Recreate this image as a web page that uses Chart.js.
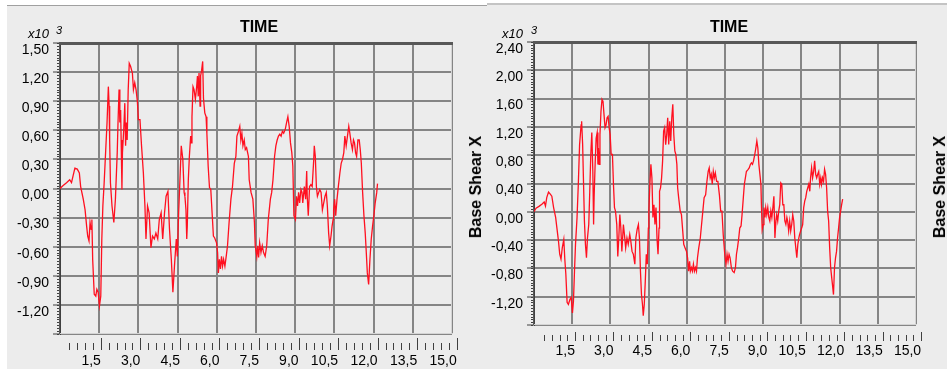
<!DOCTYPE html>
<html>
<head>
<meta charset="utf-8">
<script src="https://cdn.jsdelivr.net/npm/chart.js@4.4.1/dist/chart.umd.min.js"></script>
<style>
  body { margin: 0; width: 947px; height: 369px; background: #fff; position: relative; overflow: hidden; font-family: 'Liberation Sans', Arial, sans-serif; color: #000; }
  .panel { position: absolute; bottom: 0; background: #ececec; }
  #panelA { left: 7px; top: 5px; width: 480px; border-top: 1px solid #a0a0a0; }
  #panelB { left: 487px; right: 0; top: 3px; border-top: 2px solid #c4c4c4; }
  canvas { position: absolute; top: 0; }
  #chartA { left: 0; }
  #chartB { left: 487px; }
  .lbl { position: absolute; white-space: nowrap; line-height: 1; }
  .title { font-weight: bold; font-size: 16px; top: 19px; transform: translateX(-50%); }
  .mult { font-style: italic; font-size: 13px; top: 27px; }
  .pow { font-style: italic; font-size: 11px; top: 25px; }
  .ytitle { font-weight: bold; font-size: 16px; transform: translate(-50%, -50%) rotate(-90deg); }
</style>
</head>
<body>
<div class="panel" id="panelA"></div>
<div class="panel" id="panelB"></div>
<canvas id="chartA" width="487" height="369"></canvas>
<canvas id="chartB" width="460" height="369"></canvas>

<div class="lbl title" style="left:259px">TIME</div>
<div class="lbl mult" style="left:28px">x10</div>
<div class="lbl pow" style="left:56px">3</div>
<div class="lbl ytitle" style="left:476px; top:187px">Base Shear X</div>

<div class="lbl title" style="left:729px">TIME</div>
<div class="lbl mult" style="left:502px">x10</div>
<div class="lbl pow" style="left:531px">3</div>
<div class="lbl ytitle" style="left:940px; top:187px">Base Shear X</div>

<script>
// time axis (s)
const gridTimes = [0, 1.5, 3.0, 4.5, 6.0, 7.5, 9.0, 10.5, 12.0, 13.5, 15.0];
const timeLabels = [1.5, 3.0, 4.5, 6.0, 7.5, 9.0, 10.5, 12.0, 13.5, 15.0];

// base shear, x10^3
const shearTicksA = [-1.5, -1.2, -0.9, -0.6, -0.3, 0, 0.3, 0.6, 0.9, 1.2, 1.5];
const shearTicksB = [-1.6, -1.2, -0.8, -0.4, 0, 0.4, 0.8, 1.2, 1.6, 2.0, 2.4];

const timeA = [
  0.00, 0.12, 0.25, 0.37, 0.44, 0.50, 0.57, 0.66, 0.74, 0.79,
  0.89, 0.96, 1.02, 1.06, 1.11, 1.15, 1.19, 1.22, 1.25, 1.31,
  1.37, 1.41, 1.46, 1.51, 1.56, 1.60, 1.64, 1.69, 1.75, 1.80,
  1.85, 1.88, 1.90, 1.93, 1.99, 2.06, 2.12, 2.19, 2.22, 2.26,
  2.29, 2.32, 2.34, 2.37, 2.39, 2.44, 2.48, 2.51, 2.54, 2.57,
  2.61, 2.65, 2.70, 2.77, 2.81, 2.86, 2.91, 2.96, 3.00, 3.06,
  3.12, 3.19, 3.25, 3.29, 3.35, 3.41, 3.48, 3.54, 3.61, 3.67,
  3.74, 3.80, 3.87, 3.93, 4.00, 4.06, 4.13, 4.19, 4.26, 4.32,
  4.38, 4.45, 4.49, 4.54, 4.59, 4.64, 4.70, 4.75, 4.78, 4.82,
  4.85, 4.87, 4.91, 4.95, 5.00, 5.03, 5.05, 5.09, 5.13, 5.18,
  5.23, 5.26, 5.29, 5.32, 5.36, 5.38, 5.42, 5.46, 5.49, 5.54,
  5.59, 5.62, 5.67, 5.72, 5.77, 5.82, 5.87, 5.92, 5.99, 6.03,
  6.06, 6.10, 6.14, 6.18, 6.22, 6.26, 6.31, 6.36, 6.41, 6.47,
  6.54, 6.60, 6.67, 6.73, 6.77, 6.83, 6.88, 6.92, 6.96, 7.00,
  7.05, 7.09, 7.14, 7.21, 7.24, 7.31, 7.38, 7.44, 7.47, 7.53,
  7.56, 7.60, 7.64, 7.69, 7.74, 7.79, 7.85, 7.91, 7.97, 8.05,
  8.10, 8.15, 8.21, 8.26, 8.31, 8.36, 8.41, 8.46, 8.51, 8.56,
  8.62, 8.67, 8.72, 8.77, 8.82, 8.87, 8.91, 8.95, 9.01, 9.05,
  9.09, 9.13, 9.17, 9.22, 9.26, 9.29, 9.35, 9.40, 9.44, 9.46,
  9.50, 9.55, 9.60, 9.65, 9.71, 9.73, 9.77, 9.81, 9.85, 9.90,
  9.94, 9.99, 10.04, 10.09, 10.14, 10.19, 10.23, 10.28, 10.32, 10.37,
  10.41, 10.45, 10.47, 10.51, 10.55, 10.60, 10.65, 10.71, 10.76, 10.81,
  10.86, 10.90, 10.95, 11.00, 11.05, 11.09, 11.14, 11.19, 11.23, 11.27,
  11.31, 11.35, 11.40, 11.45, 11.49, 11.53, 11.58, 11.63, 11.68, 11.72,
  11.76, 11.81, 11.86, 11.91, 11.96, 12.01, 12.06, 12.12, 12.15
];
const shearA = [
  0.00, 0.03, 0.06, 0.09, 0.06, 0.13, 0.21, 0.20, 0.16, 0.02,
  -0.11, -0.22, -0.39, -0.49, -0.54, -0.35, -0.42, -0.32, -0.73, -1.09,
  -1.11, -1.04, -1.07, -1.21, -1.11, -0.52, -0.18, 0.06, 0.40, 0.68,
  1.05, 0.85, 0.50, 0.06, -0.18, -0.35, -0.11, 0.37, 0.68, 1.02,
  0.68, 0.81, 0.50, -0.01, 0.37, 0.61, 0.88, 0.44, 0.68, 0.50,
  1.02, 1.29, 1.26, 1.19, 1.02, 1.09, 1.02, 0.90, 0.71, 0.71,
  0.44, 0.16, -0.18, -0.52, -0.18, -0.25, -0.61, -0.49, -0.52, -0.46,
  -0.52, -0.32, -0.25, -0.52, -0.25, -0.08, -0.03, -0.42, -0.73, -1.07,
  -0.80, -0.52, -0.70, -0.25, 0.09, 0.44, 0.30, -0.04, -0.08, -0.22,
  -0.52, -0.39, 0.09, 0.33, 0.54, 0.47, 0.74, 1.05, 1.02, 0.92,
  1.05, 1.16, 0.95, 1.19, 0.85, 1.16, 1.22, 1.31, 0.93, 0.78,
  0.74, 0.57, 0.23, 0.01, -0.01, -0.25, -0.49, -0.51, -0.56, -0.66,
  -0.87, -0.73, -0.83, -0.70, -0.80, -0.73, -0.80, -0.70, -0.59, -0.35,
  -0.11, 0.02, 0.26, 0.33, 0.54, 0.59, 0.64, 0.50, 0.57, 0.44,
  0.50, 0.40, 0.42, 0.33, 0.09, -0.04, -0.11, -0.35, -0.59, -0.70,
  -0.59, -0.71, -0.56, -0.66, -0.59, -0.66, -0.70, -0.59, -0.32, -0.11,
  -0.04, 0.09, 0.33, 0.44, 0.50, 0.54, 0.56, 0.54, 0.59, 0.57,
  0.61, 0.68, 0.74, 0.64, 0.47, 0.37, 0.23, -0.28, -0.32, -0.08,
  -0.18, -0.04, -0.15, -0.01, -0.04, -0.15, 0.02, -0.11, 0.18, -0.08,
  -0.28, 0.02, 0.04, 0.02, 0.30, 0.44, 0.33, 0.02, -0.08, -0.04,
  -0.01, -0.04, -0.22, -0.15, -0.08, -0.04, -0.18, -0.46, -0.59, -0.49,
  -0.39, -0.32, -0.22, -0.11, -0.28, -0.11, 0.02, 0.16, 0.26, 0.30,
  0.37, 0.54, 0.44, 0.54, 0.64, 0.57, 0.47, 0.40, 0.50, 0.47,
  0.37, 0.33, 0.50, 0.50, 0.40, 0.26, -0.04, -0.28, -0.46, -0.66,
  -0.87, -0.99, -0.73, -0.52, -0.39, -0.28, -0.15, -0.04, 0.05
];

const timeB = [
  0.00, 0.08, 0.21, 0.32, 0.40, 0.45, 0.50, 0.57, 0.64, 0.70,
  0.77, 0.85, 0.90, 0.96, 1.01, 1.06, 1.11, 1.17, 1.21, 1.25,
  1.30, 1.35, 1.41, 1.46, 1.51, 1.55, 1.59, 1.63, 1.69, 1.74,
  1.79, 1.85, 1.87, 1.91, 1.94, 1.98, 2.02, 2.06, 2.10, 2.15,
  2.19, 2.23, 2.27, 2.31, 2.34, 2.36, 2.40, 2.44, 2.48, 2.51,
  2.53, 2.56, 2.59, 2.63, 2.67, 2.71, 2.75, 2.79, 2.83, 2.87,
  2.91, 2.95, 2.99, 3.03, 3.08, 3.12, 3.16, 3.20, 3.25, 3.29,
  3.33, 3.37, 3.41, 3.45, 3.51, 3.55, 3.60, 3.65, 3.70, 3.76,
  3.80, 3.85, 3.90, 3.96, 4.00, 4.05, 4.10, 4.14, 4.18, 4.22,
  4.26, 4.29, 4.33, 4.37, 4.41, 4.45, 4.49, 4.51, 4.55, 4.59,
  4.63, 4.67, 4.71, 4.75, 4.79, 4.83, 4.87, 4.91, 4.93, 4.97,
  5.01, 5.05, 5.09, 5.13, 5.17, 5.21, 5.25, 5.29, 5.33, 5.37,
  5.41, 5.45, 5.49, 5.53, 5.57, 5.61, 5.64, 5.68, 5.74, 5.79,
  5.84, 5.88, 5.93, 5.99, 6.03, 6.07, 6.11, 6.14, 6.18, 6.22,
  6.26, 6.30, 6.34, 6.38, 6.42, 6.47, 6.53, 6.58, 6.63, 6.68,
  6.74, 6.79, 6.84, 6.88, 6.92, 6.96, 7.00, 7.04, 7.08, 7.12,
  7.17, 7.22, 7.28, 7.33, 7.38, 7.43, 7.49, 7.54, 7.58, 7.62,
  7.66, 7.70, 7.75, 7.80, 7.86, 7.91, 7.95, 7.99, 8.04, 8.08,
  8.13, 8.17, 8.22, 8.26, 8.30, 8.34, 8.41, 8.45, 8.50, 8.54,
  8.58, 8.62, 8.67, 8.71, 8.75, 8.79, 8.83, 8.87, 8.91, 8.93,
  8.96, 9.00, 9.03, 9.07, 9.10, 9.14, 9.18, 9.22, 9.26, 9.30,
  9.34, 9.38, 9.42, 9.46, 9.50, 9.53, 9.57, 9.61, 9.65, 9.69,
  9.73, 9.77, 9.81, 9.85, 9.89, 9.93, 9.96, 10.00, 10.04, 10.08,
  10.12, 10.16, 10.20, 10.24, 10.28, 10.32, 10.36, 10.40, 10.43, 10.47,
  10.51, 10.55, 10.59, 10.63, 10.67, 10.71, 10.75, 10.79, 10.83, 10.86,
  10.90, 10.94, 10.98, 11.02, 11.06, 11.10, 11.14, 11.18, 11.22, 11.26,
  11.29, 11.33, 11.37, 11.41, 11.45, 11.49, 11.53, 11.57, 11.61, 11.65,
  11.69, 11.72, 11.76, 11.80, 11.84, 11.88, 11.92, 11.96, 12.00, 12.04,
  12.08, 12.12
];
const shearB = [
  0.00, 0.05, 0.08, 0.11, 0.14, 0.08, 0.20, 0.28, 0.25, 0.22,
  0.06, -0.08, -0.23, -0.41, -0.60, -0.67, -0.51, -0.39, -0.67, -0.88,
  -1.28, -1.31, -1.24, -1.21, -1.43, -1.26, -0.84, -0.46, -0.08, 0.39,
  0.95, 1.23, 1.28, 0.95, 0.48, -0.13, -0.46, -0.65, -0.37, -0.18,
  0.29, 0.81, 1.12, 0.57, -0.18, 0.20, 0.67, 1.04, 1.12, 0.67,
  0.90, 0.67, 1.09, 1.42, 1.59, 1.56, 1.37, 1.19, 1.23, 1.33,
  1.35, 1.19, 1.09, 0.81, 0.81, 0.39, 0.06, 0.01, -0.18, -0.63,
  -0.37, -0.04, -0.23, -0.56, -0.18, -0.32, -0.51, -0.37, -0.46, -0.32,
  -0.41, -0.56, -0.60, -0.74, -0.37, -0.25, -0.18, -0.37, -0.84, -1.17,
  -1.31, -1.47, -1.31, -0.98, -0.60, -0.74, -0.23, 0.01, 0.39, 0.67,
  0.48, -0.08, 0.10, -0.18, 0.06, -0.37, -0.60, -0.23, 0.29, 0.34,
  0.48, 0.72, 1.14, 1.19, 0.95, 1.09, 1.33, 0.95, 1.28, 1.00,
  1.33, 1.52, 1.09, 0.86, 0.81, 0.67, 0.34, 0.20, 0.01, -0.04,
  -0.27, -0.46, -0.51, -0.56, -0.65, -0.84, -0.70, -0.84, -0.79, -0.84,
  -0.74, -0.84, -0.79, -0.84, -0.65, -0.51, -0.37, -0.18, 0.01, 0.20,
  0.24, 0.43, 0.57, 0.62, 0.48, 0.53, 0.39, 0.57, 0.48, 0.55,
  0.43, 0.43, 0.24, 0.01, 0.01, -0.32, -0.60, -0.74, -0.60, -0.70,
  -0.60, -0.65, -0.79, -0.84, -0.86, -0.79, -0.60, -0.51, -0.37, -0.23,
  -0.20, -0.04, 0.20, 0.39, 0.48, 0.57, 0.60, 0.62, 0.67, 0.69,
  0.67, 0.72, 0.81, 0.90, 1.00, 0.90, 0.67, 0.53, 0.39, 0.10,
  -0.25, -0.18, 0.06, -0.08, 0.06, -0.04, 0.06, -0.08, -0.13, 0.01,
  -0.08, 0.06, 0.22, -0.37, -0.13, -0.04, -0.13, 0.01, 0.10, 0.41,
  0.39, 0.10, 0.10, -0.13, -0.18, -0.08, -0.13, -0.27, -0.13, -0.27,
  -0.18, -0.04, -0.13, -0.37, -0.51, -0.65, -0.46, -0.37, -0.32, -0.27,
  -0.23, -0.18, 0.06, 0.15, 0.20, 0.29, 0.34, 0.39, 0.29, 0.48,
  0.62, 0.48, 0.57, 0.72, 0.53, 0.48, 0.53, 0.57, 0.39, 0.48,
  0.39, 0.48, 0.43, 0.60, 0.53, 0.34, 0.01, -0.13, -0.51, -0.79,
  -0.93, -1.03, -1.17, -0.79, -0.65, -0.56, -0.37, -0.23, -0.08, 0.01,
  0.10, 0.18
];

const labelFont = { family: "'Liberation Sans', Arial, sans-serif", size: 14 };
const gridColor = '#858585';

// sunken frame around the plot, minor ticks on the value axis,
// and the detached tick ruler under the time axis
const framePlugin = {
  id: 'frame',
  afterDatasetsDraw(chart, args, opts) {
    const { ctx, chartArea: a, scales } = chart;
    ctx.save();
    ctx.fillStyle = '#d4d4d4';
    ctx.fillRect(a.left, a.bottom - 1, a.right - a.left + 1, 1);
    ctx.fillRect(a.right - 1, a.top, 1, a.bottom - a.top);
    ctx.fillStyle = '#585858';
    ctx.fillRect(a.left, a.top - 1, a.right - a.left + 1, 3);
    ctx.fillRect(a.left - 1, a.top - 1, 1, a.bottom - a.top + 1);

    // minor ticks on the value axis
    const y = scales.y;
    ctx.fillStyle = '#404040';
    for (let v = y.min; v <= y.max + 1e-9; v += opts.yMinor) {
      const py = Math.round(y.getPixelForValue(v));
      ctx.fillRect(a.left - 3, py, 2, 1);
    }

    // tick ruler below the plot
    const xt = scales.xt;
    const base = a.bottom + opts.rulerGap;
    for (let k = 1; k * 0.3 <= 15.0001; k++) {
      const px = Math.round(xt.getPixelForValue(k * 0.3));
      const len = k % 5 === 0 ? opts.majorLen : opts.minorLen;
      ctx.fillRect(px, base - len, 1, len);
    }
    ctx.restore();
  }
};

function makeChart(id, times, values, cfg) {
  return new Chart(document.getElementById(id), {
    type: 'line',
    data: {
      datasets: [{
        data: times.map((t, i) => ({ x: t, y: values[i] })),
        borderColor: '#ff1020',
        borderWidth: 1.3,
        pointRadius: 0,
        tension: 0,
        fill: false
      }]
    },
    options: {
      responsive: false,
      animation: false,
      events: [],
      layout: { padding: cfg.padding },
      plugins: {
        legend: { display: false },
        tooltip: { enabled: false },
        frame: cfg.frame
      },
      scales: {
        x: {
          type: 'linear', min: 0, max: 15,
          afterBuildTicks: s => { s.ticks = gridTimes.map(v => ({ value: v })); },
          afterFit: s => { s.height = 0; },
          ticks: { display: false },
          grid: { color: gridColor, lineWidth: 2, drawTicks: false },
          border: { display: false }
        },
        xt: {
          type: 'linear', position: 'bottom', min: cfg.rulerMin, max: cfg.rulerMax,
          afterBuildTicks: s => { s.ticks = timeLabels.map(v => ({ value: v })); },
          afterFit: s => { s.height = cfg.rulerHeight; },
          ticks: {
            callback: v => v.toFixed(1).replace('.', ','),
            align: 'end', padding: cfg.labelPad, maxRotation: 0, autoSkip: false,
            font: labelFont, color: '#000'
          },
          grid: { display: false },
          border: { display: false }
        },
        y: {
          type: 'linear', min: cfg.yTicks[0], max: cfg.yTicks[cfg.yTicks.length - 1],
          afterBuildTicks: s => { s.ticks = cfg.yTicks.map(v => ({ value: v })); },
          afterFit: s => { s.width = cfg.yWidth; },
          ticks: {
            callback: v => v === cfg.yTicks[0] ? '' : v.toFixed(2).replace('.', ','),
            padding: 4, labelOffset: 7, autoSkip: false,
            font: labelFont, color: '#000'
          },
          grid: { color: gridColor, lineWidth: 2, tickLength: 7, tickColor: '#404040', tickWidth: 1 },
          border: { color: '#404040', width: 1 }
        }
      }
    },
    plugins: [framePlugin]
  });
}

makeChart('chartA', timeA, shearA, {
  padding: { top: 43, right: 35, bottom: 0, left: 0 },
  yWidth: 60, rulerHeight: 35, rulerMin: -0.05, rulerMax: 14.82, labelPad: 11,
  yTicks: shearTicksA,
  frame: { yMinor: 0.03, rulerGap: 16, majorLen: 12, minorLen: 7 }
});

makeChart('chartB', timeB, shearB, {
  padding: { top: 42, right: 31, bottom: 0, left: 0 },
  yWidth: 47, rulerHeight: 44, rulerMin: -0.1, rulerMax: 14.8, labelPad: 10,
  yTicks: shearTicksB,
  frame: { yMinor: 0.04, rulerGap: 16, majorLen: 9, minorLen: 6 }
});
</script>
</body>
</html>
